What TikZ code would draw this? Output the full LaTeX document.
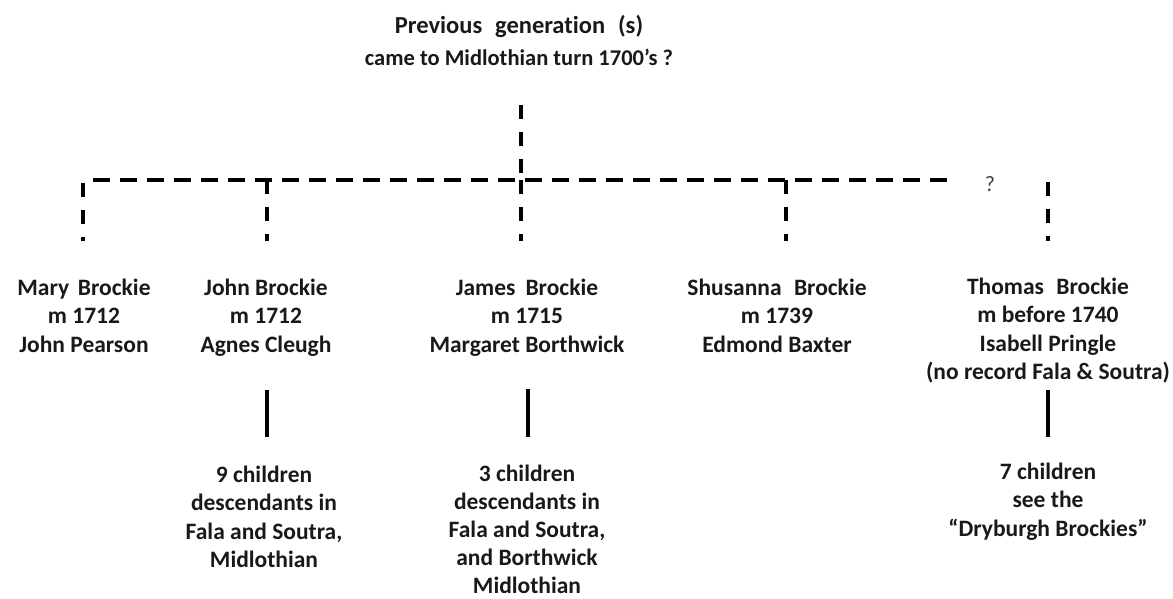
\documentclass[tikz,border=0pt]{standalone}
\usepackage{fontspec}
\setmainfont{Carlito}[Ligatures=NoCommon]
\begin{document}
\begin{tikzpicture}[x=1pt,y=-1pt,
  txt/.style={font=\bfseries\fontsize{23.5}{28.3}\selectfont, align=center,
    inner sep=0pt, anchor=north, text=black!90},
  hdash/.style={line width=3.5pt, dash pattern=on 17pt off 10pt},
  vdash/.style={line width=3.5pt, dash pattern=on 14pt off 13pt},
  stem/.style={line width=3.5pt}]
\useasboundingbox (0,0) rectangle (1173,599);

% heading
\node[txt, font=\bfseries\fontsize{24.5}{29}\selectfont] (prev) at (519,15)
  {Previous\hspace{0.3em} generation\hspace{0.3em} (s)};
\node[txt, font=\bfseries\fontsize{22.5}{26}\selectfont] (came) at (519,49)
  {came to Midlothian turn 1700’s ?};

% dashed family line
\coordinate (top) at (521,105);
\coordinate (join) at (521,180);
\coordinate (hl) at (93,180);
\coordinate (hr) at (952,180);
\draw[vdash] (top) -- (join);
\draw[hdash] (hl) -- (hr);
\node[font=\fontsize{22}{26}\selectfont, text=black!75, inner sep=0pt] (q) at (990,184) {?};

% drops to each sibling
\coordinate (d1a) at (83,183);   \coordinate (d1b) at (83,240.5);
\coordinate (d2a) at (267,180);  \coordinate (d2b) at (267,240.5);
\coordinate (d3a) at (521,180);  \coordinate (d3b) at (521,240.5);
\coordinate (d4a) at (786,180);  \coordinate (d4b) at (786,240.5);
\coordinate (d5a) at (1048,182); \coordinate (d5b) at (1048,240.5);
\foreach \i in {1,...,5} \draw[vdash] (d\i a) -- (d\i b);

% siblings
\node[txt] (mary) at (84,279) {Mary\hspace{0.15em} Brockie\\m 1712\\John Pearson};
\node[txt] (john) at (266,279) {John Brockie\\m 1712\\Agnes Cleugh};
\node[txt] (james) at (527,279) {James\hspace{0.2em} Brockie\\m 1715\\Margaret Borthwick};
\node[txt] (shus) at (777,279) {Shusanna\hspace{0.3em} Brockie\\m 1739\\Edmond Baxter};
\node[txt] (thomas) at (1048,278) {Thomas\hspace{0.3em} Brockie\\m before 1740\\Isabell Pringle\\(no record Fala \& Soutra)};

% lines of descent
\coordinate (s2a) at (267,390);  \coordinate (s2b) at (267,437);
\coordinate (s3a) at (528,389);  \coordinate (s3b) at (528,437);
\coordinate (s5a) at (1048,390); \coordinate (s5b) at (1048,437);
\draw[stem] (s2a) -- (s2b);
\draw[stem] (s3a) -- (s3b);
\draw[stem] (s5a) -- (s5b);

% descendants
\node[txt] (kidsjohn) at (264,466) {9 children\\descendants in\\Fala and Soutra,\\Midlothian};
\node[txt, font=\bfseries\fontsize{23.5}{28}\selectfont] (kidsjames) at (527,465)
  {3 children\\descendants in\\Fala and Soutra,\\and Borthwick\\Midlothian};
\node[txt] (kidsthomas) at (1048,463) {7 children\\see the\\“Dryburgh Brockies”};
\end{tikzpicture}
\end{document}
